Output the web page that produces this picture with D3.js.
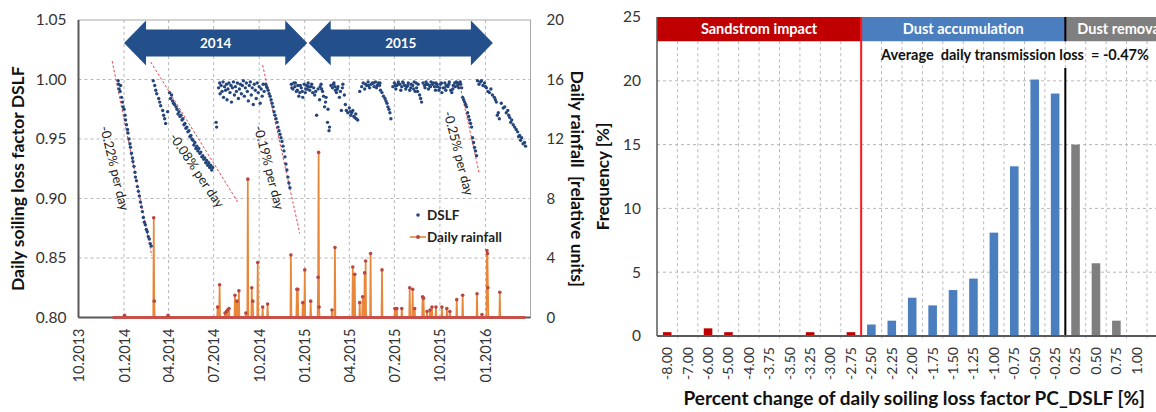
<!DOCTYPE html>
<html><head><meta charset="utf-8">
<script src="https://cdn.jsdelivr.net/npm/d3@7"></script>
<style>body{margin:0;background:#fff}svg{display:block}text{font-family:Lato,"Open Sans",sans-serif;white-space:pre}</style>
</head><body><svg id="c" width="1156" height="412"></svg>
<script>
// ---------------- DATA ----------------
const dateDomain = ["2013-10-01", "2016-04-01"];
const dateTickLabels = ["10.2013","01.2014","04.2014","07.2014","10.2014","01.2015","04.2015","07.2015","10.2015","01.2016"];
const dslfTicks = [0.80, 0.85, 0.90, 0.95, 1.00, 1.05];
const rainTicks = [0, 4, 8, 12, 16, 20];

const dslfPoints = [
 ["2013-12-20",0.999],["2013-12-21",0.996],["2013-12-22",0.992],["2013-12-24",0.990],["2013-12-25",0.995],["2013-12-27",0.985],["2013-12-29",0.981],["2013-12-30",0.977],["2014-01-01",0.975],["2014-01-03",0.970],["2014-01-04",0.966],["2014-01-06",0.962],["2014-01-08",0.958],["2014-01-09",0.955],["2014-01-11",0.950],["2014-01-13",0.946],["2014-01-14",0.943],["2014-01-16",0.938],["2014-01-18",0.934],["2014-01-19",0.931],["2014-01-21",0.927],["2014-01-23",0.922],["2014-01-24",0.918],["2014-01-26",0.915],["2014-01-28",0.910],["2014-01-30",0.906],["2014-02-01",0.902],["2014-02-03",0.897],["2014-02-05",0.893],["2014-02-07",0.889],["2014-02-09",0.884],["2014-02-11",0.880],["2014-02-13",0.878],["2014-02-15",0.874],["2014-02-17",0.872],["2014-02-19",0.868],["2014-02-21",0.866],["2014-02-23",0.862],["2014-02-25",0.860],
 ["2014-03-01",0.999],["2014-03-04",0.995],["2014-03-06",0.991],["2014-03-08",0.988],["2014-03-12",0.984],["2014-03-14",0.981],["2014-03-16",0.978],["2014-03-20",0.974],["2014-03-22",0.970],["2014-03-24",0.967],["2014-03-26",0.963],["2014-03-30",0.973],["2014-04-03",0.989],["2014-04-05",0.984],["2014-04-07",0.987],["2014-04-09",0.982],["2014-04-11",0.980],["2014-04-13",0.979],["2014-04-16",0.977],["2014-04-18",0.975],["2014-04-20",0.971],["2014-04-22",0.973],["2014-04-24",0.969],["2014-04-26",0.970],["2014-04-28",0.966],["2014-04-30",0.967],["2014-05-02",0.962],["2014-05-04",0.963],["2014-05-06",0.959],["2014-05-08",0.960],["2014-05-10",0.956],["2014-05-12",0.957],["2014-05-14",0.952],["2014-05-16",0.953],["2014-05-18",0.950],["2014-05-20",0.949],["2014-05-22",0.945],["2014-05-24",0.947],["2014-05-26",0.942],["2014-05-28",0.944],["2014-05-30",0.940],["2014-06-01",0.942],["2014-06-03",0.938],["2014-06-05",0.939],["2014-06-07",0.935],["2014-06-09",0.936],["2014-06-11",0.933],["2014-06-13",0.934],["2014-06-15",0.930],["2014-06-17",0.932],["2014-06-19",0.928],["2014-06-21",0.930],["2014-06-23",0.926],["2014-06-25",0.928],["2014-06-27",0.924],["2014-06-29",0.926],["2014-07-06",0.964],["2014-07-07",0.960],
 ["2014-07-11",0.993],["2014-07-13",0.997],["2014-07-14",0.988],["2014-07-16",0.995],["2014-07-18",0.990],["2014-07-20",0.998],["2014-07-21",0.985],["2014-07-23",0.994],["2014-07-25",0.991],["2014-07-27",0.996],["2014-07-28",0.983],["2014-07-30",0.992],["2014-08-01",0.997],["2014-08-03",0.989],["2014-08-05",0.995],["2014-08-06",0.981],["2014-08-08",0.993],["2014-08-10",0.998],["2014-08-12",0.987],["2014-08-14",0.994],["2014-08-16",0.990],["2014-08-18",0.997],["2014-08-20",0.984],["2014-08-22",0.992],["2014-08-24",0.996],["2014-08-26",0.988],["2014-08-28",0.995],["2014-08-30",0.999],["2014-09-01",0.986],["2014-09-03",0.993],["2014-09-05",0.997],["2014-09-07",0.990],["2014-09-09",0.982],["2014-09-11",0.995],["2014-09-13",0.998],["2014-09-15",0.987],["2014-09-17",0.993],["2014-09-19",0.979],["2014-09-21",0.996],["2014-09-23",0.991],["2014-09-25",0.984],["2014-09-27",0.997],["2014-09-29",0.989],["2014-10-01",0.994],["2014-10-03",0.980],["2014-10-05",0.992],["2014-10-07",0.986],["2014-10-09",0.996],["2014-10-11",0.990],
 ["2014-10-14",0.996],["2014-10-16",0.994],["2014-10-17",0.993],["2014-10-19",0.991],["2014-10-21",0.988],["2014-10-23",0.986],["2014-10-25",0.983],["2014-10-27",0.980],["2014-10-29",0.977],["2014-10-31",0.973],["2014-11-02",0.970],["2014-11-04",0.967],["2014-11-06",0.964],["2014-11-08",0.960],["2014-11-10",0.957],["2014-11-12",0.954],["2014-11-14",0.951],["2014-11-16",0.948],["2014-11-18",0.944],["2014-11-20",0.940],["2014-11-22",0.935],["2014-11-24",0.929],["2014-11-26",0.924],["2014-11-28",0.918],["2014-11-30",0.913],["2014-12-02",0.909],
 ["2014-12-05",0.996],["2014-12-08",0.992],["2014-12-10",0.997],["2014-12-12",0.994],["2014-12-15",0.990],["2014-12-18",0.995],["2014-12-20",0.986],["2014-12-22",0.989],["2014-12-25",0.993],["2014-12-28",0.985],["2014-12-31",0.996],["2015-01-03",0.992],["2015-01-05",0.995],["2015-01-08",0.997],["2015-01-11",0.991],["2015-01-14",0.994],["2015-01-17",0.989],["2015-01-21",0.987],["2015-01-25",0.970],["2015-01-28",0.992],["2015-01-31",0.983],["2015-02-03",0.996],["2015-02-06",0.990],["2015-02-10",0.977],["2015-02-13",0.985],["2015-02-16",0.964],["2015-02-19",0.957],["2015-02-20",0.960],["2015-02-23",0.995],["2015-02-26",0.993],["2015-03-01",0.997],["2015-03-04",0.991],["2015-03-06",0.989],["2015-03-09",0.994],["2015-03-12",0.985],["2015-03-14",0.990],["2015-03-16",0.974],["2015-03-19",0.996],["2015-03-22",0.987],["2015-03-26",0.974],["2015-03-29",0.972],["2015-04-01",0.976],["2015-04-04",0.970],["2015-04-06",0.972],["2015-04-08",0.974],["2015-04-10",0.969],["2015-04-12",0.968],["2015-04-15",0.967],["2015-04-18",0.966],["2015-04-22",0.990],["2015-04-26",0.994],["2015-04-29",0.997],["2015-05-02",0.992],["2015-05-06",0.995],["2015-05-09",0.998],["2015-05-12",0.993],["2015-05-15",0.996],["2015-05-18",0.997],["2015-05-21",0.994],["2015-05-24",0.998],["2015-05-27",0.995],["2015-05-30",0.997],["2015-06-02",0.997],["2015-06-03",0.991],["2015-06-06",0.989],["2015-06-09",0.986],["2015-06-12",0.984],["2015-06-14",0.982],["2015-06-16",0.980],["2015-06-18",0.977],["2015-06-20",0.975],["2015-06-22",0.972],["2015-06-24",0.967],["2015-06-28",0.994],["2015-07-01",0.997],["2015-07-03",0.995],["2015-07-06",0.995],["2015-07-09",0.998],["2015-07-12",0.996],["2015-07-16",0.994],["2015-07-19",0.997],["2015-07-22",0.995],["2015-07-26",0.994],["2015-07-29",0.997],["2015-08-01",0.991],["2015-08-04",0.996],["2015-08-07",0.995],["2015-08-10",0.998],["2015-08-12",0.990],["2015-08-15",0.993],["2015-08-18",0.996],["2015-08-21",0.987],["2015-08-23",0.984],["2015-08-25",0.981],["2015-08-28",0.997],["2015-08-31",0.995],["2015-09-03",0.998],["2015-09-06",0.996],["2015-09-10",0.995],["2015-09-13",0.998],["2015-09-16",0.996],["2015-09-20",0.994],["2015-09-23",0.997],["2015-09-26",0.994],["2015-09-29",0.991],["2015-10-02",0.996],["2015-10-05",0.989],["2015-10-08",0.993],["2015-10-11",0.997],["2015-10-14",0.995],["2015-10-17",0.994],["2015-10-20",0.998],["2015-10-23",0.991],["2015-10-25",0.989],["2015-10-28",0.995],["2015-10-31",0.997],["2015-11-03",0.998],["2015-11-06",0.995],["2015-11-09",0.997],["2015-11-12",0.996],["2015-11-14",0.993],
 ["2014-12-06",0.993],["2014-12-13",0.997],["2014-12-17",0.991],["2014-12-23",0.995],["2014-12-27",0.990],["2015-01-02",0.989],["2015-01-06",0.992],["2015-01-09",0.994],["2015-01-15",0.996],["2015-01-19",0.993],["2015-01-23",0.990],["2015-02-01",0.994],["2015-02-04",0.992],["2015-02-08",0.986],["2015-02-12",0.981],["2015-02-17",0.975],["2015-02-28",0.996],["2015-03-03",0.994],["2015-03-08",0.992],["2015-03-18",0.993],["2015-03-24",0.979],["2015-04-03",0.973],["2015-04-14",0.971],["2015-05-04",0.996],["2015-05-10",0.995],["2015-05-20",0.997],["2015-05-26",0.993],["2015-06-01",0.995],
 ["2015-07-04",0.992],["2015-07-08",0.996],["2015-07-14",0.991],["2015-07-18",0.998],["2015-07-24",0.992],["2015-07-28",0.995],["2015-08-03",0.993],["2015-08-09",0.992],["2015-08-14",0.997],["2015-08-17",0.990],["2015-09-01",0.993],["2015-09-04",0.996],["2015-09-08",0.992],["2015-09-12",0.994],["2015-09-18",0.997],["2015-09-22",0.991],["2015-09-25",0.996],["2015-10-01",0.993],["2015-10-04",0.997],["2015-10-10",0.993],["2015-10-13",0.991],["2015-10-19",0.996],["2015-10-27",0.992],["2015-11-01",0.994],["2015-11-05",0.997],["2015-11-08",0.993],["2015-11-11",0.998],
 ["2015-11-16",0.985],["2015-11-18",0.983],["2015-11-20",0.981],["2015-11-22",0.979],["2015-11-24",0.977],["2015-11-26",0.972],["2015-11-28",0.969],["2015-11-30",0.966],["2015-12-02",0.963],["2015-12-04",0.960],["2015-12-06",0.951],["2015-12-08",0.947],["2015-12-10",0.943],["2015-12-12",0.940],["2015-12-14",0.936],
 ["2015-12-16",0.999],["2015-12-19",0.996],["2015-12-22",0.998],["2015-12-24",0.999],["2015-12-27",0.995],["2015-12-30",0.997],["2016-01-01",0.994],["2016-01-03",0.993],["2016-01-06",0.990],["2016-01-09",0.989],["2016-01-12",0.992],["2016-01-15",0.987],["2016-01-19",0.985],["2016-01-21",0.983],["2016-01-23",0.981],["2016-01-25",0.970],["2016-01-27",0.972],["2016-01-29",0.967],["2016-02-02",0.980],["2016-02-06",0.976],["2016-02-09",0.977],["2016-02-12",0.972],["2016-02-15",0.974],["2016-02-17",0.970],["2016-02-19",0.968],["2016-02-21",0.964],["2016-02-23",0.966],["2016-02-26",0.962],["2016-02-29",0.960],["2016-03-03",0.958],["2016-03-06",0.956],["2016-03-08",0.952],["2016-03-10",0.953],["2016-03-12",0.949],["2016-03-14",0.951],["2016-03-17",0.946],["2016-03-20",0.947],["2016-03-22",0.944]
];

const rainPeriod = ["2013-12-09", "2016-03-21"];
const rainfall = [
 ["2014-01-02",0.15],["2014-03-02",6.7],["2014-03-03",1.1],["2014-03-31",0.15],["2014-07-09",0.7],["2014-07-13",2.2],["2014-07-24",0.3],["2014-07-27",0.4],["2014-07-29",0.5],["2014-08-01",0.6],["2014-08-13",1.5],["2014-08-17",1.1],["2014-08-21",1.8],["2014-09-04",0.3],["2014-09-08",9.3],["2014-09-16",2.0],["2014-09-18",1.1],["2014-09-28",3.7],["2014-10-08",0.7],["2014-10-18",0.9],
 ["2014-12-04",4.2],["2014-12-16",1.9],["2014-12-18",1.9],["2014-12-28",1.0],["2015-01-01",3.2],["2015-01-13",1.1],["2015-01-28",2.7],["2015-01-29",11.1],["2015-01-30",0.7],["2015-02-25",0.5],["2015-03-03",4.7],["2015-04-08",3.4],["2015-04-12",2.9],["2015-04-22",1.0],["2015-04-28",1.4],["2015-05-02",3.0],["2015-05-04",3.8],["2015-05-14",4.3],["2015-06-06",3.2],["2015-07-02",0.6],["2015-07-06",0.6],["2015-07-16",0.6],["2015-08-01",2.0],["2015-08-07",1.9],["2015-08-11",0.6],["2015-08-27",1.4],["2015-08-29",1.3],["2015-09-05",0.4],["2015-09-11",0.5],["2015-09-15",0.7],["2015-09-23",0.7],["2015-10-05",0.7],["2015-10-15",0.6],["2015-10-21",0.4],["2015-11-04",1.2],["2015-11-16",1.5],["2015-12-15",1.6],["2015-12-25",0.2],["2016-01-04",4.5],["2016-01-05",4.3],["2016-01-06",2.0],["2016-01-30",1.7]
];

// soiling-rate trend lines: [start date, start DSLF, end date, end DSLF]
const trendLines = [
 ["2013-12-08",1.0155,"2014-02-26",0.852],
 ["2014-02-24",1.0146,"2014-08-19",0.8968],
 ["2014-10-08",1.0121,"2014-12-22",0.8707],
 ["2015-11-09",0.9978,"2015-12-19",0.922]
];
const trendLabels = ["-0.22% per day","-0.08% per day","-0.19% per day","-0.25% per day"];
const trendLabelDates = ["2013-12-13","2014-05-28","2014-10-21","2015-11-08"];
const trendLabelValues = [0.9254, 0.9237, 0.926, 0.938];

const yearArrows = ["2014","2015"];
const yearArrowStart = ["2014-01-01","2015-01-09"];
const yearArrowEnd = ["2015-01-06","2016-01-16"];
const yearArrowLevel = 1.0306;

// histogram
const pcCategories = ["-8.00","-7.00","-6.00","-5.00","-4.00","-3.75","-3.50","-3.25","-3.00","-2.75","-2.50","-2.25","-2.00","-1.75","-1.50","-1.25","-1.00","-0.75","-0.50","-0.25","0.25","0.50","0.75","1.00"];
const frequency = [0.3,0,0.6,0.3,0,0,0,0.3,0,0.3,0.9,1.2,3.0,2.4,3.6,4.5,8.1,13.3,20.1,19.0,15.0,5.7,1.2,0];
const freqTicks = [0,5,10,15,20,25];
const regionLabels = ["Sandstrom impact","Dust accumulation","Dust removal"];
const regionFirst = ["-8.00","-2.50","0.25"];
const regionLast = ["-2.75","-0.25","1.00"];
const regionBand = [23.1, 25];
const averageLabel = "Average  daily transmission loss  = -0.47%";
const averageLineTop = 21.0;

// ---------------- DRAW ----------------
const svg = d3.select("#c");
const parse = d3.timeParse("%Y-%m-%d");
const parseTick = d3.timeParse("%m.%Y");
const GRID = "#b8b8b8";

// ===== Left panel =====
const L = {l:78.5, r:530.5, t:20, b:317.5};
const x = d3.scaleTime().domain(dateDomain.map(parse)).range([L.l, L.r]);
const yL = d3.scaleLinear().domain([0.80,1.05]).range([L.b, L.t]);
const yR = d3.scaleLinear().domain([0,20]).range([L.b, L.t]);
const gL = svg.append("g");

gL.selectAll("line.hg").data(dslfTicks.filter(v=>v>0.8 && v<1.05)).join("line")
  .attr("x1",L.l).attr("x2",L.r).attr("y1",d=>yL(d)).attr("y2",d=>yL(d))
  .attr("stroke",GRID).attr("stroke-dasharray","3,3");
const tickDates = dateTickLabels.map(parseTick);
gL.selectAll("line.vg").data(tickDates.slice(1)).join("line")
  .attr("x1",d=>x(d)).attr("x2",d=>x(d)).attr("y1",L.t).attr("y2",L.b)
  .attr("stroke",GRID).attr("stroke-dasharray","3,3");
gL.append("rect").attr("x",L.l).attr("y",L.t).attr("width",L.r-L.l).attr("height",L.b-L.t)
  .attr("fill","none").attr("stroke","#a8a8a8");

// year arrows
const aBody = 13.5, aHead = 22.5, aLen = 22;
yearArrows.forEach((lab,i)=>{
  const x1 = x(parse(yearArrowStart[i])), x2 = x(parse(yearArrowEnd[i])), yc = yL(yearArrowLevel);
  const p = [[x1,yc],[x1+aLen,yc-aHead],[x1+aLen,yc-aBody],[x2-aLen,yc-aBody],[x2-aLen,yc-aHead],[x2,yc],
             [x2-aLen,yc+aHead],[x2-aLen,yc+aBody],[x1+aLen,yc+aBody],[x1+aLen,yc+aHead]];
  gL.append("path").attr("d","M"+p.join("L")+"Z").attr("fill","#23508a");
  gL.append("text").attr("x",(x1+x2)/2).attr("y",yc+4.5).attr("text-anchor","middle")
    .attr("fill","#fff").attr("font-weight","bold").attr("font-size",13.5).text(lab);
});

// trend lines
gL.selectAll("line.tr").data(trendLines).join("line")
  .attr("x1",d=>x(parse(d[0]))).attr("y1",d=>yL(d[1])).attr("x2",d=>x(parse(d[2]))).attr("y2",d=>yL(d[3]))
  .attr("stroke","#e0474c").attr("stroke-width",1).attr("stroke-dasharray","2.5,2");

// rainfall line (zero on days without a listed rain event)
const rs = rainfall.map(d=>({d:parse(d[0]), v:d[1]})).sort((a,b)=>a.d-b.d);
const dayKey = t=>d3.timeDay.floor(t).getTime();
const rainSet = new Set(rs.map(r=>dayKey(r.d)));
const rainSeries = [{d:parse(rainPeriod[0]), v:0}];
rs.forEach(r=>{
  const prev = d3.timeDay.offset(r.d,-1), next = d3.timeDay.offset(r.d,1);
  if(!rainSet.has(dayKey(prev))) rainSeries.push({d:prev,v:0});
  rainSeries.push(r);
  if(!rainSet.has(dayKey(next))) rainSeries.push({d:next,v:0});
});
rainSeries.push({d:parse(rainPeriod[1]), v:0});
gL.append("path").datum(rainSeries)
  .attr("d", d3.line().x(d=>x(d.d)).y(d=>yR(d.v)))
  .attr("fill","none").attr("stroke","#e8863a").attr("stroke-width",1.7);

// axes lines
gL.append("line").attr("x1",L.l).attr("x2",L.l).attr("y1",L.t).attr("y2",L.b).attr("stroke","#595959").attr("stroke-width",2);
gL.append("line").attr("x1",L.l).attr("x2",L.r).attr("y1",L.b).attr("y2",L.b).attr("stroke","#595959").attr("stroke-width",2);
gL.append("line").attr("x1",x(parse(rainPeriod[0]))).attr("x2",x(parse(rainPeriod[1])))
  .attr("y1",yR(0)).attr("y2",yR(0)).attr("stroke","#c8504b").attr("stroke-width",3);
gL.selectAll("circle.rm").data(rs).join("circle")
  .attr("cx",d=>x(d.d)).attr("cy",d=>yR(d.v)).attr("r",1.8).attr("fill","#b9473f");

// DSLF points
gL.selectAll("circle.dp").data(dslfPoints).join("circle")
  .attr("cx",d=>x(parse(d[0]))).attr("cy",d=>yL(d[1])).attr("r",1.7).attr("fill","#25467c");

// trend labels
trendLabels.forEach((t,i)=>{
  const l = trendLines[i];
  const ang = Math.atan2(yL(l[3])-yL(l[1]), x(parse(l[2]))-x(parse(l[0])))*180/Math.PI - 2;
  const px = x(parse(trendLabelDates[i])), py = yL(trendLabelValues[i]);
  gL.append("text").attr("transform",`translate(${px},${py}) rotate(${ang})`)
    .attr("text-anchor","middle").attr("dy","0.35em").attr("font-size",13).attr("fill","#222").text(t);
});

// axes ticks
const axL = gL.append("g").attr("transform",`translate(${L.l},0)`)
  .call(d3.axisLeft(yL).tickValues(dslfTicks).tickFormat(d3.format(".2f")).tickSize(0).tickPadding(12));
axL.select(".domain").remove();
axL.selectAll("text").attr("font-size",15.5).attr("fill","#333").style("font-family","Lato, sans-serif");
const axR = gL.append("g").attr("transform",`translate(${L.r},0)`)
  .call(d3.axisRight(yR).tickValues(rainTicks).tickSize(0).tickPadding(16));
axR.select(".domain").remove();
axR.selectAll("text").attr("font-size",15).attr("fill","#333").style("font-family","Lato, sans-serif");
const axB = gL.append("g").attr("transform",`translate(0,${L.b})`)
  .call(d3.axisBottom(x).tickValues(tickDates).tickFormat(d3.timeFormat("%m.%Y")).tickSize(0));
axB.select(".domain").remove();
axB.selectAll("text").attr("transform","rotate(-90)").attr("x",-11).attr("y",0).attr("dy","0.35em")
  .style("text-anchor","end").attr("font-size",14.5).attr("fill","#333").style("font-family","Lato, sans-serif");

// titles
gL.append("text").attr("transform",`translate(24,${(L.t+L.b)/2+10}) rotate(-90)`).attr("text-anchor","middle")
  .attr("font-weight","bold").attr("font-size",17.5).attr("fill","#111").text("Daily soiling loss factor DSLF");
gL.append("text").attr("transform",`translate(571,${(L.t+L.b)/2+10}) rotate(90)`).attr("text-anchor","middle")
  .attr("font-weight","bold").attr("font-size",17.5).attr("fill","#111").text("Daily rainfall  [relative units]");

// legend
const lg = gL.append("g").attr("transform","translate(410,215)");
lg.append("circle").attr("cx",8).attr("cy",0).attr("r",1.8).attr("fill","#25467c");
lg.append("text").attr("x",17).attr("y",0).attr("dy","0.35em").attr("font-size",13.5).attr("font-weight","bold").attr("fill","#222").text("DSLF");
lg.append("line").attr("x1",0).attr("x2",16).attr("y1",22).attr("y2",22).attr("stroke","#e8863a").attr("stroke-width",1.6);
lg.append("circle").attr("cx",8).attr("cy",22).attr("r",2).attr("fill","#b9473f");
lg.append("text").attr("x",17).attr("y",22).attr("dy","0.35em").attr("font-size",13.5).attr("font-weight","bold").attr("fill","#222").text("Daily rainfall");

// ===== Right panel =====
const R = {l:657, t:17, b:336};
const xb = d3.scaleBand().domain(pcCategories).range([R.l, 1147]).padding(0);
const step = xb.step();
const Rr = R.l + step*(pcCategories.length+1);
const yF = d3.scaleLinear().domain([0,25]).range([R.b, R.t]);
const gR = svg.append("g");
gR.selectAll("line.hg").data(freqTicks.filter(v=>v>0 && v<25)).join("line")
  .attr("x1",R.l).attr("x2",Rr).attr("y1",d=>yF(d)).attr("y2",d=>yF(d))
  .attr("stroke",GRID).attr("stroke-dasharray","3,3");
const bounds = pcCategories.map(c=>xb(c)+step);
gR.selectAll("line.vg").data(bounds).join("line")
  .attr("x1",d=>d).attr("x2",d=>d).attr("y1",yF(regionBand[0])).attr("y2",R.b+5)
  .attr("stroke",GRID).attr("stroke-dasharray","3,3");

const regionColor = ["#c00000","#4a7ebf","#7f7f7f"];
const regionOf = c => { const i = pcCategories.indexOf(c);
  return regionFirst.reduce((acc,f,k)=> i>=pcCategories.indexOf(f)?k:acc, 0); };

regionLabels.forEach((lab,k)=>{
  const x1 = xb(regionFirst[k]);
  const x2 = k===regionLabels.length-1 ? Rr : xb(regionLast[k])+step;
  gR.append("rect").attr("x",x1).attr("y",yF(regionBand[1])).attr("width",x2-x1)
    .attr("height",yF(regionBand[0])-yF(regionBand[1])).attr("fill",regionColor[k]);
  gR.append("text").attr("x",(x1+x2)/2 + (k===2?4:0)).attr("y",(yF(regionBand[0])+yF(regionBand[1]))/2)
    .attr("dy","0.36em").attr("text-anchor","middle").attr("fill","#fff").attr("font-weight","bold")
    .attr("font-size",14.5).text(lab);
});

const bw = step*0.42;
gR.selectAll("rect.bar").data(pcCategories.map((c,i)=>({c, v:frequency[i]})).filter(d=>d.v>0)).join("rect")
  .attr("x",d=>xb(d.c)+step/2-bw/2).attr("width",bw)
  .attr("y",d=>yF(d.v)).attr("height",d=>yF(0)-yF(d.v))
  .attr("fill",d=>regionColor[regionOf(d.c)]);

const redX = xb(regionLast[0])+step;
gR.append("line").attr("x1",redX).attr("x2",redX).attr("y1",yF(25)).attr("y2",R.b).attr("stroke","#ff1a1a").attr("stroke-width",2);
const blkX = xb(regionLast[1])+step;
gR.append("line").attr("x1",blkX).attr("x2",blkX).attr("y1",yF(averageLineTop)).attr("y2",R.b).attr("stroke","#000").attr("stroke-width",2);
gR.append("line").attr("x1",blkX).attr("x2",blkX).attr("y1",yF(25)).attr("y2",yF(regionBand[0])).attr("stroke","#000").attr("stroke-width",2);

gR.append("text").attr("x",1015).attr("y",60).attr("text-anchor","middle").attr("font-weight","bold")
  .attr("font-size",14.5).attr("fill","#111").text(averageLabel);

gR.append("line").attr("x1",R.l).attr("x2",R.l).attr("y1",R.t).attr("y2",R.b).attr("stroke","#595959").attr("stroke-width",1.5);
gR.append("line").attr("x1",R.l).attr("x2",Rr).attr("y1",R.b).attr("y2",R.b).attr("stroke","#595959").attr("stroke-width",2);
const axF = gR.append("g").attr("transform",`translate(${R.l},0)`)
  .call(d3.axisLeft(yF).tickValues(freqTicks).tickSize(0).tickPadding(16));
axF.select(".domain").remove();
axF.selectAll("text").attr("font-size",15.5).attr("fill","#333").style("font-family","Lato, sans-serif");
const axC = gR.append("g").attr("transform",`translate(0,${R.b})`)
  .call(d3.axisBottom(xb).tickSize(0));
axC.select(".domain").remove();
axC.selectAll("text").attr("transform","rotate(-90)").attr("x",-11).attr("y",0).attr("dy","0.35em")
  .style("text-anchor","end").attr("font-size",14).attr("fill","#333").style("font-family","Lato, sans-serif");

gR.append("text").attr("transform",`translate(609,${(R.t+R.b)/2}) rotate(-90)`).attr("text-anchor","middle")
  .attr("font-weight","bold").attr("font-size",17).attr("fill","#111").text("Frequency [%]");
gR.append("text").attr("x",(R.l+Rr)/2+2).attr("y",405).attr("text-anchor","middle")
  .attr("font-weight","bold").attr("font-size",19).attr("fill","#111").text("Percent change of daily soiling loss factor PC_DSLF [%]");
</script></body></html>
